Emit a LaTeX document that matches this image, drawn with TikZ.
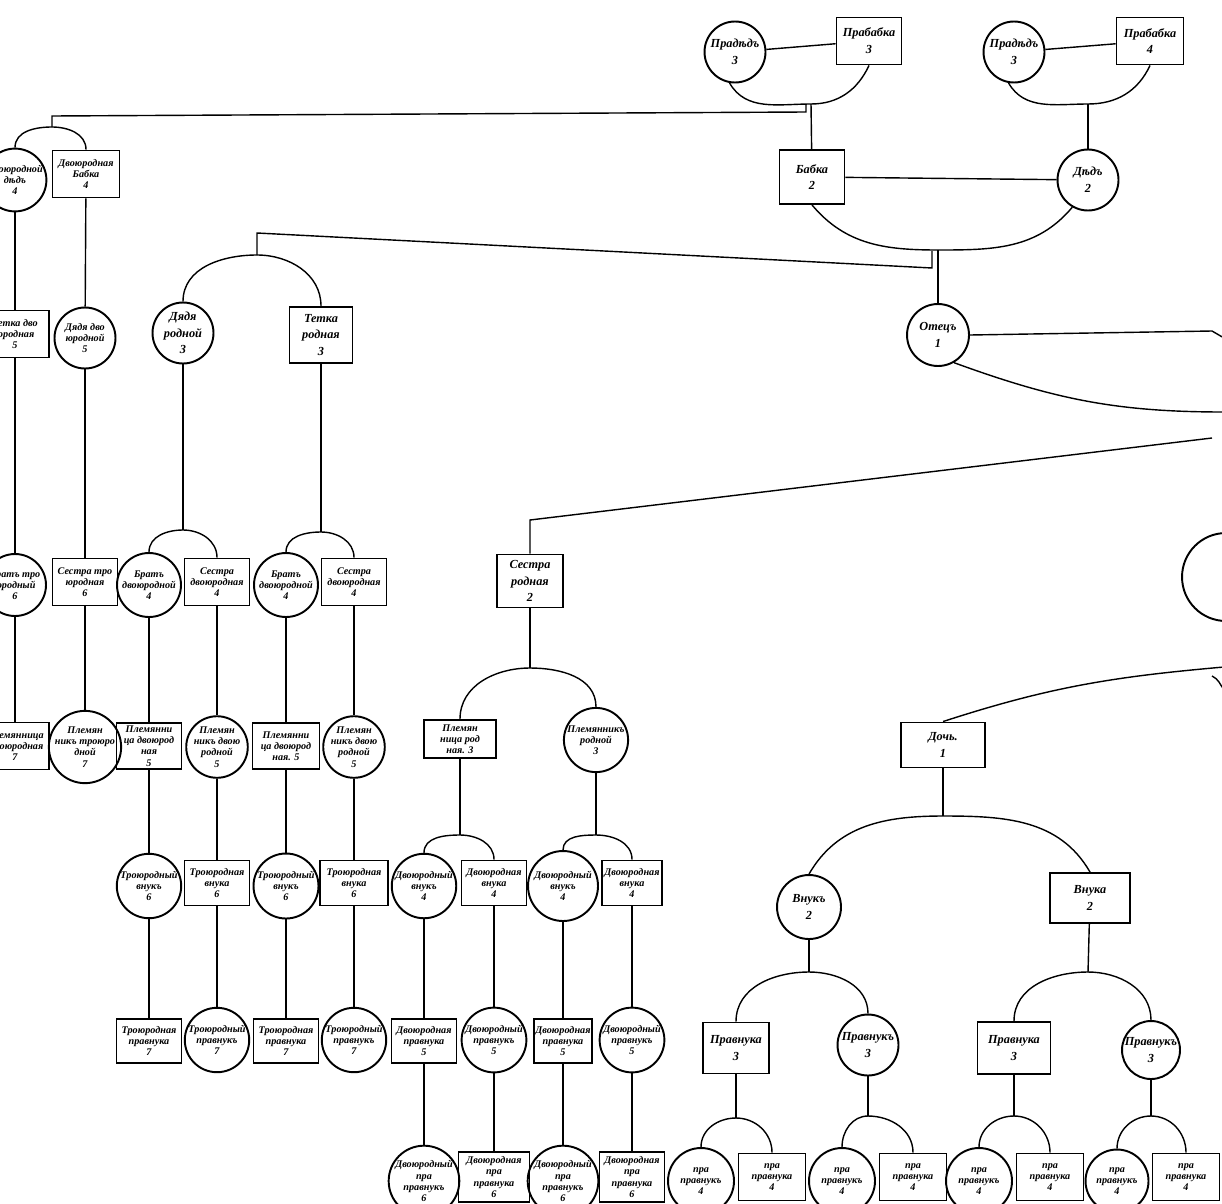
\documentclass[tikz,border=0pt]{standalone}
\usepackage{fontspec}
\setmainfont{Liberation Serif}
\usetikzlibrary{positioning}
\newcommand{\lbl}{\fontsize{5.8}{6.4}\selectfont\bfseries\itshape}
\newcommand{\biglbl}{\fontsize{7}{9.5}\selectfont\bfseries\itshape}
\begin{document}
\begin{tikzpicture}[x=0.02cm,y=-0.02cm,
    male/.style={circle,draw,line width=1.1pt,minimum size=1.22cm,inner sep=0pt,align=center,font=\lbl},
    female/.style={rectangle,draw,line width=1.1pt,minimum width=1.3cm,minimum height=0.94cm,inner sep=0pt,align=center,font=\lbl},
    big/.style={font=\biglbl},
    link/.style={line width=0.8pt}
  ]
  \useasboundingbox (0,0) rectangle (1222,1203);
  \fill[white] (0,0) rectangle (1222,1203);

  % great-grandparents, grandparents, father
  \node[male,big] (pd1) at (735,52) {Прадѣдъ\\3};
  \node[female,big] (pb1) at (869,41) {Прабабка\\3};
  \node[male,big] (pd2) at (1014,52) {Прадѣдъ\\3};
  \node[female,big,minimum width=1.34cm] (pb2) at (1150,41) {Прабабка\\4};
  \node[female,big,minimum height=1.08cm] (bab) at (812,177) {Бабка\\2};
  \node[male,big] (ded) at (1088,180) {Дѣдъ\\2};
  \node[male,big,minimum size=1.24cm] (ot) at (938,335) {Отецъ\\1};
  \node[male,minimum size=1.76cm] (rc) at (1226,577) {};

  \coordinate (m1) at (811,104);
  \coordinate (m2) at (1088,104);
  \coordinate (m3) at (938,250);
  \coordinate (k0a) at (52,116);
  \coordinate (k0b) at (806,112);
  \coordinate (k0c) at (806,104);
  \coordinate (k1a) at (257,233);
  \coordinate (k1b) at (932,268);
  \coordinate (k1c) at (932,251);
  \coordinate (k2) at (1212,438);
  \coordinate (k2b) at (530,520);
  \coordinate (k3) at (1224,667);
  \coordinate (k4) at (1212,331);
  \coordinate (k4b) at (1224,338);
  \coordinate (k5) at (1224,412);
  \coordinate (k6) at (1212,676);
  \coordinate (k6b) at (1224,690);

  % left branch
  \node[male] (ddd) at (15,180) {Двоюродной\\дѣдъ\\4};
  \node[female,minimum width=1.34cm] (ddb) at (86,174) {Двоюродная\\Бабка\\4};
  \node[female,minimum width=1.36cm] (tdv) at (15,334) {Тетка дво\\юродная\\5};
  \node[male] (ddv) at (85,338) {Дядя дво\\юродной\\5};
  \node[male,minimum size=1.24cm] (btr) at (15,585) {Братъ тро\\юродный\\6};
  \node[female] (str) at (85,582) {Сестра тро\\юродная\\6};
  \node[female,minimum width=1.36cm] (plt1) at (15,746) {Племянница\\троюродная\\7};
  \node[male,minimum size=1.24cm] (plt2) at (85,747) {Племян\\никъ троюро\\дной\\7};

  \node[male,big] (dr) at (183,333) {Дядя\\родной\\3};
  \node[female,big,minimum width=1.26cm,minimum height=1.12cm] (tr) at (321,335) {Тетка\\родная\\3};
  \node[male,minimum size=1.28cm] (b2a) at (149,585) {Братъ\\двоюродной\\4};
  \node[female] (s2a) at (217,582) {Сестра\\двоюродная\\4};
  \node[male,minimum size=1.28cm] (b2b) at (286,585) {Братъ\\двоюродной\\4};
  \node[female] (s2b) at (354,582) {Сестра\\двоюродная\\4};
  \node[female,minimum height=0.92cm] (pn2a) at (149,746) {Племянни\\ца двоюрод\\ная\\5};
  \node[male,minimum size=1.18cm] (pk2a) at (217,747) {Племян\\никъ двою\\родной\\5};
  \node[female,minimum width=1.34cm,minimum height=0.92cm] (pn2b) at (286,746) {Племянни\\ца двоюрод\\ная. 5};
  \node[male] (pk2b) at (354,747) {Племян\\никъ двою\\родной\\5};
  \node[male,minimum size=1.28cm] (v3a) at (149,886) {Троюродный\\внукъ\\6};
  \node[female,minimum height=0.9cm] (w3a) at (217,883) {Троюродная\\внука\\6};
  \node[male,minimum size=1.3cm] (v3b) at (286,886) {Троюродный\\внукъ\\6};
  \node[female,minimum width=1.36cm,minimum height=0.9cm] (w3b) at (354,883) {Троюродная\\внука\\6};
  \node[female,minimum height=0.88cm] (q3a) at (149,1041) {Троюродная\\правнука\\7};
  \node[male,minimum size=1.26cm] (r3a) at (217,1040) {Троюродный\\правнукъ\\7};
  \node[female,minimum height=0.88cm] (q3b) at (286,1041) {Троюродная\\правнука\\7};
  \node[male,minimum size=1.28cm] (r3b) at (354,1040) {Троюродный\\правнукъ\\7};

  % sister's branch
  \node[female,big,minimum width=1.32cm,minimum height=1.06cm] (sr) at (530,581) {Сестра\\родная\\2};
  \node[female,minimum width=1.44cm,minimum height=0.76cm] (pr) at (460,739) {Племян\\ница род\\ная. 3};
  \node[male,minimum size=1.1cm] (pkr) at (596,740) {Племянникъ\\родной\\3};
  \node[male,minimum size=1.24cm] (v2a) at (424,886) {Двоюродный\\внукъ\\4};
  \node[female,minimum height=0.9cm] (w2a) at (494,883) {Двоюродная\\внука\\4};
  \node[male,minimum size=1.4cm] (v2b) at (563,886) {Двоюродный\\внукъ\\4};
  \node[female,minimum width=1.2cm,minimum height=0.9cm] (w2b) at (632,883) {Двоюродная\\внука\\4};
  \node[female,minimum height=0.88cm] (q2a) at (424,1041) {Двоюродная\\правнука\\5};
  \node[male,minimum size=1.28cm] (r2a) at (494,1040) {Двоюродный\\правнукъ\\5};
  \node[female,minimum width=1.16cm,minimum height=0.88cm] (q2b) at (563,1041) {Двоюродная\\правнука\\5};
  \node[male] (r2b) at (632,1040) {Двоюродный\\правнукъ\\5};
  \node[male,minimum size=1.36cm] (ya) at (424,1181) {Двоюродный\\пра\\правнукъ\\6};
  \node[female,minimum width=1.42cm,minimum height=1cm] (zb) at (494,1177) {Двоюродная\\пра\\правнука\\6};
  \node[male,minimum size=1.32cm] (yc) at (563,1181) {Двоюродный\\пра\\правнукъ\\6};
  \node[female,minimum height=1cm] (zd) at (632,1177) {Двоюродная\\пра\\правнука\\6};

  % daughter's branch
  \node[female,big,minimum width=1.68cm,minimum height=0.9cm] (doch) at (943,745) {Дочь.\\1};
  \node[male,big,minimum size=1.28cm] (vn) at (809,907) {Внукъ\\2};
  \node[female,big,minimum width=1.6cm,minimum height=1cm] (vna) at (1090,898) {Внука\\2};
  \node[female,big,minimum width=1.32cm,minimum height=1.02cm] (pvn1) at (736,1048) {Правнука\\3};
  \node[male,big] (pvk1) at (868,1045) {Правнукъ\\3};
  \node[female,big,minimum width=1.46cm,minimum height=1.04cm] (pvn2) at (1014,1048) {Правнука\\3};
  \node[male,big,minimum size=1.16cm] (pvk2) at (1151,1050) {Правнукъ\\3};
  \node[male,minimum size=1.32cm] (pp1c) at (701,1181) {пра\\правнукъ\\4};
  \node[female,minimum width=1.34cm] (pp1b) at (772,1177) {пра\\правнука\\4};
  \node[male,minimum size=1.32cm] (pp2c) at (842,1181) {пра\\правнукъ\\4};
  \node[female,minimum width=1.34cm] (pp2b) at (913,1177) {пра\\правнука\\4};
  \node[male,minimum size=1.32cm] (pp3c) at (979,1181) {пра\\правнукъ\\4};
  \node[female,minimum width=1.34cm] (pp3b) at (1050,1177) {пра\\правнука\\4};
  \node[male,minimum size=1.26cm] (pp4c) at (1117,1181) {пра\\правнукъ\\4};
  \node[female,minimum width=1.34cm] (pp4b) at (1186,1177) {пра\\правнука\\4};

  % arc tops
  \coordinate (a0) at (52,127);
  \coordinate (a1) at (257,255);
  \coordinate (a2) at (183,530);
  \coordinate (a3) at (321,532);
  \coordinate (a4) at (530,668);
  \coordinate (a5) at (460,835);
  \coordinate (a6) at (596,835);
  \coordinate (a7) at (943,816);
  \coordinate (a8) at (809,972);
  \coordinate (a9) at (1088,972);
  \coordinate (b1) at (736,1118);
  \coordinate (b2) at (868,1116);
  \coordinate (b3) at (1014,1116);
  \coordinate (b4) at (1151,1116);

  % marriages
  \draw[link] (pd1) -- (pb1);
  \draw[link] (pd2) -- (pb2);
  \draw[link] (bab) -- (ded);
  \draw[link] (pd1.260) to[out=-60,in=180] (m1) to[out=0,in=-115] (pb1.south);
  \draw[link] (pd2.260) to[out=-60,in=180] (m2) to[out=0,in=-115] (pb2.south);
  \draw[link] (bab.south) to[out=-50,in=180] (m3) to[out=0,in=-130] (ded.240);
  \draw[link] (m1) -- (bab);
  \draw[link] (m2) -- (ded);
  \draw[link] (m3) -- (ot);
  \draw[link] (a0) -- (k0a) -- (k0b) -- (k0c);
  \draw[link] (a1) -- (k1a) -- (k1b) -- (k1c);
  \draw[link] (ot.east) -- (k4) -- (k4b);
  \draw[link] (ot.-60) to[out=-20,in=180] (k5);
  \draw[link] (k2) -- (k2b) -- (sr);
  \draw[link] (doch.north) to[out=18,in=185] (k3);
  \draw[link] (k6) to[out=-25,in=125] (k6b);

  % children arcs
  \foreach \p/\a/\b in {a0/ddd/ddb,a1/dr/tr,a2/b2a/s2a,a3/b2b/s2b,a4/pr/pkr,a5/v2a/w2a,a6/v2b/w2b,a8/pvn1/pvk1,a9/pvn2/pvk2,b1/pp1c/pp1b,b2/pp2c/pp2b,b3/pp3c/pp3b,b4/pp4c/pp4b}
    \draw[link] (\a.north) to[out=90,in=180] (\p) to[out=0,in=90] (\b.north);
  \draw[link] (vn.north) to[out=60,in=180] (a7) to[out=0,in=120] (vna.north);
  \foreach \u/\p in {dr/a2,tr/a3,sr/a4,pr/a5,pkr/a6,doch/a7,vn/a8,vna/a9,pvn1/b1,pvk1/b2,pvn2/b3,pvk2/b4}
    \draw[link] (\u) -- (\p);

  % descent lines
  \foreach \u/\v in {ddd/tdv,ddb/ddv,tdv/btr,ddv/str,btr/plt1,str/plt2,b2a/pn2a,s2a/pk2a,b2b/pn2b,s2b/pk2b,pn2a/v3a,pk2a/w3a,pn2b/v3b,pk2b/w3b,v3a/q3a,w3a/r3a,v3b/q3b,w3b/r3b,v2a/q2a,w2a/r2a,v2b/q2b,w2b/r2b,q2a/ya,r2a/zb,q2b/yc,r2b/zd}
    \draw[link] (\u) -- (\v);
\end{tikzpicture}
\end{document}
